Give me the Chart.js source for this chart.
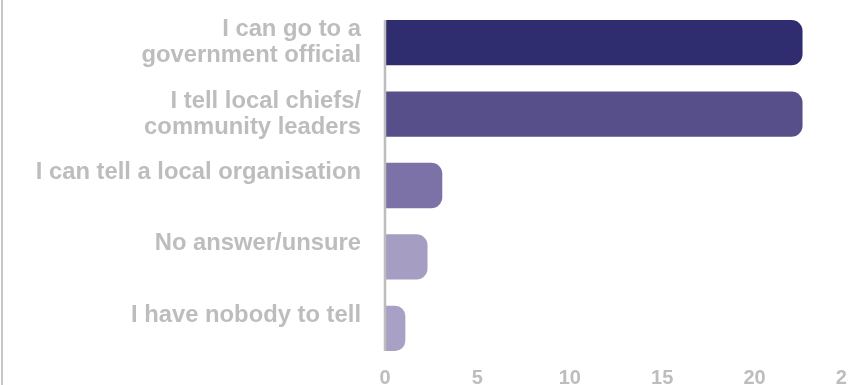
<!DOCTYPE html>
<html>
<head>
<meta charset="utf-8">
<script src="https://cdn.jsdelivr.net/npm/chart.js@4"></script>
<style>
  html, body { margin: 0; padding: 0; background: #fff; }
  #wrap { position: relative; width: 848px; height: 385px; overflow: hidden; }
  #edge { position: absolute; left: 1px; top: 0; width: 2px; height: 385px; background: #c6c6c6; }
  canvas { position: absolute; left: 0; top: 0; }
</style>
</head>
<body>
<div id="wrap">
  <canvas id="myChart" width="860" height="385"></canvas>
  <div id="edge"></div>
</div>
<script>
// single-line labels sit a little above their bars, hence the empty second line
const labels = [
    ['I can go to a', 'government official'],
    ['I tell local chiefs/', 'community leaders'],
    ['I can tell a local organisation', ''],
    ['No answer/unsure', ''],
    ['I have nobody to tell', '']
];
const values = [22.6, 22.6, 3.1, 2.3, 1.1];
const barColors = ['#302c70', '#564f8a', '#7c72a7', '#a59dc2', '#a8a0c5'];
const xMin = 0;
const xMax = 25;
const xStep = 5;

const grey = '#bdbdbd';

// vertical axis line only as tall as the bars
const axisLine = {
    id: 'axisLine',
    afterDatasetsDraw(chart) {
        const bars = chart.getDatasetMeta(0).data;
        const first = bars[0];
        const last = bars[bars.length - 1];
        const c = chart.ctx;
        c.save();
        c.strokeStyle = grey;
        c.lineWidth = 2.5;
        c.beginPath();
        c.moveTo(chart.chartArea.left, first.y - first.height / 2);
        c.lineTo(chart.chartArea.left, last.y + last.height / 2);
        c.stroke();
        c.restore();
    }
};

const ctx = document.getElementById('myChart');

const chart = new Chart(ctx, {
    type: 'bar',
    data: {
        labels: labels,
        datasets: [{
            data: values,
            backgroundColor: barColors,
            borderRadius: 11,
            borderSkipped: 'start',
            barPercentage: 1,
            categoryPercentage: 0.634
        }]
    },
    plugins: [axisLine],
    options: {
        indexAxis: 'y',
        responsive: false,
        animation: false,
        layout: {
            padding: { top: 7, bottom: -7, left: 0, right: 0 }
        },
        plugins: {
            legend: { display: false },
            tooltip: { enabled: false }
        },
        scales: {
            x: {
                min: xMin,
                max: xMax,
                grid: { display: false, drawTicks: false },
                border: { display: false },
                ticks: {
                    stepSize: xStep,
                    padding: 2,
                    color: grey,
                    font: { family: 'Liberation Sans, Arial, sans-serif', size: 20, weight: 'bold' }
                }
            },
            y: {
                grid: { display: false, drawTicks: false },
                border: { display: false },
                afterFit: (scale) => {
                    scale.width = 385;
                    scale.paddingTop = 0;
                    scale.paddingBottom = 0;
                },
                ticks: {
                    padding: 24,
                    color: grey,
                    font: { family: 'Liberation Sans, Arial, sans-serif', size: 23.8, weight: 'bold', lineHeight: 1.1 }
                }
            }
        }
    }
});
</script>
</body>
</html>
